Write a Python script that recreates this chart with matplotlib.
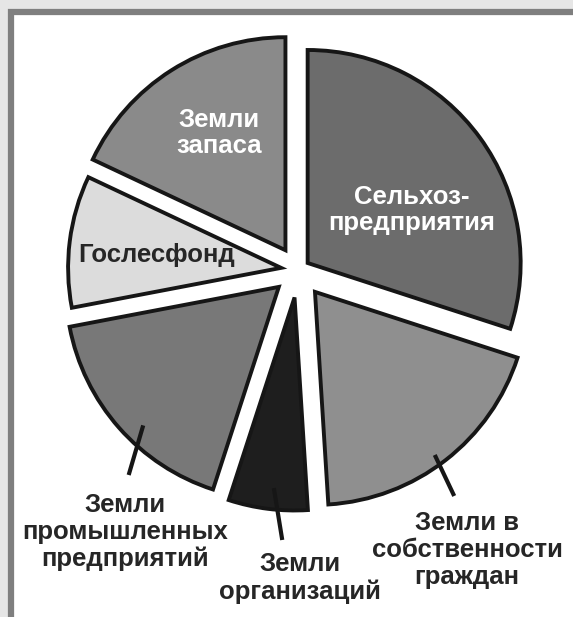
import numpy as np
import matplotlib
matplotlib.use("Agg")
import matplotlib.pyplot as plt
from matplotlib.patches import Rectangle

# категории земель (по часовой стрелке от вертикали)
categories = ["Сельхоз-\nпредприятия", "Земли в\nсобственности\nграждан", "Земли\nорганизаций",
              "Земли\nпромышленных\nпредприятий", "Гослесфонд", "Земли\nзапаса"]
shares = [30, 19, 6, 17, 10, 18]
colors = ["#6c6c6c", "#8f8f8f", "#1e1e1e", "#787878", "#dcdcdc", "#8a8a8a"]
explode = [0.056, 0.13, 0.13, 0.12, 0.08, 0.11]
text_colors = ["white", "#262626", "#262626", "#262626", "#262626", "white"]

W, H = 573, 617
# позиции подписей в пикселях картинки (x, y сверху)
label_pos = [(412, 210), (467, 550), (300, 578), (125, 532), (157, 255), (219, 133)]
# выноски: (угол от середины сектора, r начала, r конца) в долях радиуса
leaders = {1: (-1.5, 0.95, 1.16, -3.5), 2: (1.0, 0.9, 1.14, 4.3), 3: (4.2, 0.91, 1.13, 10.0)}

plt.rcParams['font.family'] = ['Liberation Sans', 'DejaVu Sans']

fig = plt.figure(figsize=(W / 100, H / 100), dpi=100, facecolor="#e6e6e6")
ax = fig.add_axes([0, 0, 1, 1])

def iy(y):
    return H - y

# рамка
ax.add_patch(Rectangle((11, -30), 700, iy(11.5) + 30, facecolor="white",
                       edgecolor="#7f7f7f", linewidth=4.5, zorder=0))

R = 213
wedges, _ = ax.pie(shares, colors=colors, explode=[e * R for e in explode], startangle=90,
                   counterclock=False, radius=R, center=(298, iy(270)),
                   wedgeprops=dict(edgecolor="#161616", linewidth=2.8, antialiased=True))

for i, w in enumerate(wedges):
    w.set_zorder(2)
    x, y = label_pos[i]
    ax.text(x, iy(y), categories[i], ha="center", va="center", multialignment="center",
            fontsize=18.5, fontweight="bold", color=text_colors[i], linespacing=1.15, zorder=5)

# линии-выноски
for i, (d1, r1, r2, d2) in leaders.items():
    w = wedges[i]
    mid = (w.theta1 + w.theta2) / 2
    cx, cy = w.center
    a1 = np.radians(mid + d1)
    a2 = np.radians(mid + d2)
    ax.plot([cx + r1 * R * np.cos(a1), cx + r2 * R * np.cos(a2)],
            [cy + r1 * R * np.sin(a1), cy + r2 * R * np.sin(a2)],
            color="#161616", linewidth=3.0, solid_capstyle="butt", zorder=3)

ax.set_xlim(0, W)
ax.set_ylim(0, H)
ax.set_aspect("auto")
ax.axis("off")

fig.savefig("out.png", dpi=100, facecolor=fig.get_facecolor())
